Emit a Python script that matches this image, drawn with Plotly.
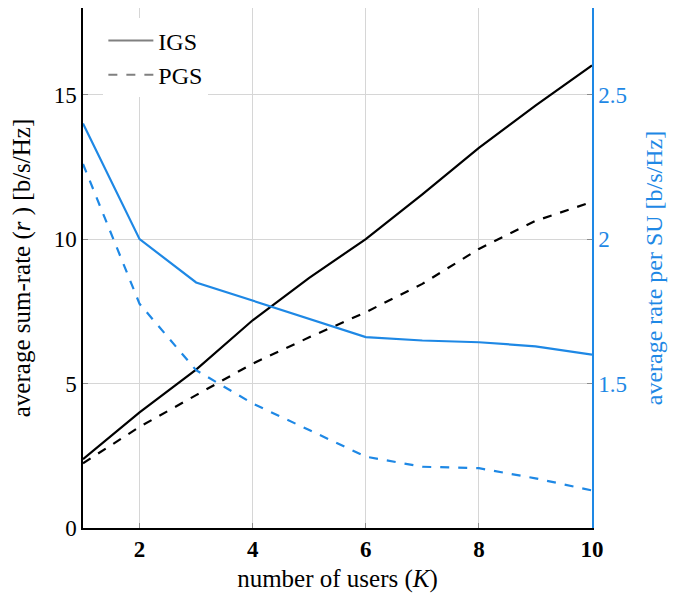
import plotly.graph_objects as go

K = [1, 2, 3, 4, 5, 6, 7, 8, 9, 10]
igs_sum = [2.38, 4.0, 5.48, 7.19, 8.66, 10.0, 11.55, 13.16, 14.62, 16.01]
pgs_sum = [2.24, 3.5, 4.6, 5.69, 6.6, 7.47, 8.45, 9.66, 10.63, 11.29]
igs_per = [2.40, 2.0, 1.85, 1.787, 1.724, 1.661, 1.649, 1.643, 1.629, 1.60]
pgs_per = [2.26, 1.776, 1.546, 1.431, 1.339, 1.247, 1.212, 1.207, 1.172, 1.13]

BLUE = "#1e88e5"
FONT = "Liberation Serif"

fig = go.Figure()
fig.add_trace(go.Scatter(x=K, y=igs_sum, mode="lines", line=dict(color="black", width=2.2), showlegend=False))
fig.add_trace(go.Scatter(x=K, y=pgs_sum, mode="lines", line=dict(color="black", width=2.2, dash="dash"), showlegend=False))
fig.add_trace(go.Scatter(x=K, y=igs_per, mode="lines", line=dict(color=BLUE, width=2.2), yaxis="y2", showlegend=False))
fig.add_trace(go.Scatter(x=K, y=pgs_per, mode="lines", line=dict(color=BLUE, width=2.2, dash="dash"), yaxis="y2", showlegend=False))
# legend entries (gray samples)
fig.add_trace(go.Scatter(x=[None], y=[None], mode="lines", name="IGS", line=dict(color="#808080", width=2)))
fig.add_trace(go.Scatter(x=[None], y=[None], mode="lines", name="PGS", line=dict(color="#808080", width=2, dash="dash")))

fig.update_layout(
    width=668, height=594,
    margin=dict(l=75, r=84, t=0, b=74, autoexpand=False),
    paper_bgcolor="white", plot_bgcolor="white",
    font=dict(family=FONT, size=22, color="black"),
    showlegend=True,
    legend=dict(x=0.04, y=0.98, xanchor="left", yanchor="top", bgcolor="white",
                itemwidth=45,
                borderwidth=0, font=dict(family=FONT, size=24, color="black"), tracegroupgap=0),
    xaxis=dict(range=[1, 10], tickvals=[2, 4, 6, 8, 10],
               tickfont=dict(family=FONT, size=23, weight="bold"),
               showgrid=True, gridcolor="#d6d6d6", gridwidth=1,
               showline=True, linecolor="black", linewidth=1.5, mirror=True,
               ticks="inside", ticklen=5, tickcolor="#8c8c8c",
               zeroline=False, automargin=False,
               title=dict(text="number of users (<i>K</i>)", font=dict(family=FONT, size=25, color="black"), standoff=8)),
    yaxis=dict(range=[0, 18], tickvals=[0, 5, 10, 15],
               tickfont=dict(family=FONT, size=23),
               showgrid=True, gridcolor="#d6d6d6", gridwidth=1,
               showline=True, linecolor="black", linewidth=1.5,
               ticks="inside", ticklen=5, tickcolor="#8c8c8c",
               zeroline=False, automargin=False,
               title=dict(text="average sum-rate (<i>r</i> ) [b/s/Hz]", font=dict(family=FONT, size=25, color="black"), standoff=21)),
    yaxis2=dict(range=[1, 2.8], tickvals=[1.5, 2, 2.5], ticktext=["1.5", "2", "2.5"],
                overlaying="y", side="right",
                tickfont=dict(family=FONT, size=23, color=BLUE),
                showgrid=False, showline=True, linecolor=BLUE, linewidth=1.5,
                ticks="inside", ticklen=5, tickcolor="#8c8c8c",
                zeroline=False, automargin=False,
                title=dict(text="average rate per SU [b/s/Hz]", font=dict(family=FONT, size=24, color=BLUE), standoff=19)),
)

fig.write_html("out.html")
